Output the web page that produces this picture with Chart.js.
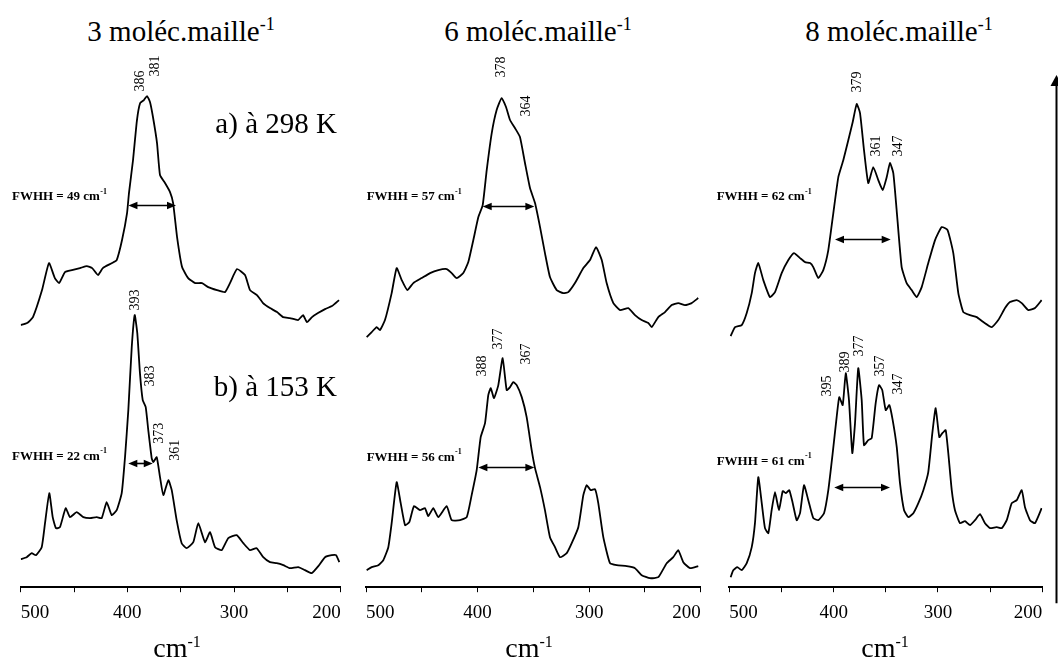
<!DOCTYPE html>
<html>
<head>
<meta charset="utf-8">
<script src="https://cdn.jsdelivr.net/npm/chart.js@4.4.1/dist/chart.umd.min.js"></script>
<style>
  body { margin: 0; background: #fff; }
  #fig { position: relative; width: 1058px; height: 664px; overflow: hidden;
         font-family: 'Liberation Serif', 'Times New Roman', serif; color: #000; background: #fff; }
  .panel { position: absolute; top: 45px; }
  .title { position: absolute; top: 14px; width: 300px; text-align: center; font-size: 29px;
           line-height: 34px; white-space: nowrap; }
  .title sup { font-size: 62%; vertical-align: super; line-height: 0; }
  .xtitle { position: absolute; top: 634px; width: 200px; text-align: center; font-size: 28px;
            line-height: 28px; white-space: nowrap; }
  .xtitle span { font-size: 16px; position: relative; top: -10px; }
</style>
</head>
<body>
<div id="fig">
  <div class="title" style="left:31px">3 moléc.maille<sup>-1</sup></div>
  <div class="title" style="left:388px">6 moléc.maille<sup>-1</sup></div>
  <div class="title" style="left:749px">8 moléc.maille<sup>-1</sup></div>

  <canvas id="c1" class="panel" width="352" height="588" style="left:0px"></canvas>
  <canvas id="c2" class="panel" width="361" height="588" style="left:352px"></canvas>
  <canvas id="c3" class="panel" width="345" height="588" style="left:713px"></canvas>

  <div class="xtitle" style="left:77px">cm<span>-1</span></div>
  <div class="xtitle" style="left:429px">cm<span>-1</span></div>
  <div class="xtitle" style="left:785px">cm<span>-1</span></div>
</div>

<script>
// ---- data (wavenumber in cm-1, intensity in arbitrary units) ----
// 3 molec/maille, a) 298 K
const wave1a = [500, 494, 488.5, 480, 473.5, 468, 464, 458.5, 452, 444.4, 438, 433, 427.5, 423, 414.4, 410, 405, 400.3, 398.5, 394.7, 391, 388, 384.5, 381.6, 378.8, 376, 372.2, 369.4, 364.7, 360, 357.1, 353.4, 348.7, 343, 336.4, 330, 324.2, 316, 308.5, 303.8, 297.2, 289.7, 285, 278.5, 272.8, 266.3, 259.7, 254, 247.6, 240, 235.3, 231.6, 226.9, 221.3, 214.7, 208.2, 201.6];
const int1a  = [268, 270, 276, 303, 330, 315, 310, 321, 323, 325, 327, 325, 318, 325, 330, 333, 353, 380, 400, 433, 473, 490, 493, 497, 491, 476, 450, 418, 410, 401, 390, 356, 326, 315, 310, 310, 306, 303, 301, 310, 324, 318, 303, 298, 290, 285, 281, 276, 275, 273, 278, 271, 276, 280, 284, 287, 293];
// 3 molec/maille, b) 153 K
const wave1b = [500, 494.4, 489.7, 485.7, 480.3, 477.2, 473.2, 470, 466.9, 463.2, 457.8, 453.8, 447.5, 441.3, 435, 428.8, 424.1, 419.4, 414.7, 410, 405.3, 402.2, 399.1, 395.9, 393.1, 390.7, 388.2, 385.6, 382.8, 380.4, 377.2, 375.7, 372.5, 369.4, 366.3, 361.6, 358.4, 353.8, 349.1, 344.4, 338.2, 333.5, 327.2, 322.5, 317.8, 311.6, 305.4, 297.5, 291.3, 285, 278.8, 272.6, 266.3, 260, 253.8, 247.5, 239.8, 233.5, 227.2, 221, 214.7, 208.4, 204.4, 201.3];
const int1b  = [34, 36, 40, 38, 46, 70, 100, 76, 65, 66, 85, 76, 81, 76, 75, 76, 75, 91, 78, 83, 100, 136, 183, 246, 278, 260, 220, 193, 186, 163, 135, 131, 136, 116, 98, 113, 103, 73, 50, 45, 51, 70, 51, 61, 46, 43, 55, 58, 50, 43, 45, 36, 31, 30, 28, 25, 26, 23, 20, 27, 36, 38, 38, 31];
// 6 molec/maille, a) 298 K
const wave2a = [499.4, 494.9, 490.4, 487.5, 483, 477, 472.5, 468, 463, 457.6, 450.1, 442.6, 435.2, 427.7, 423.2, 418.7, 412.8, 408.3, 403.8, 399.3, 395.4, 391.8, 387.3, 382.9, 378.4, 374.5, 370.9, 366.5, 362, 357.5, 353, 348.5, 344, 339.6, 335.1, 329.1, 323.2, 318.7, 312.7, 305.2, 299.2, 293.8, 288.7, 284.3, 278.3, 272.3, 264.9, 258.9, 252.9, 246.9, 243.9, 238, 232, 226, 220.1, 214.1, 208.1, 202.2];
const int2a  = [256, 261, 266, 263, 273, 300, 325, 313, 303, 310, 315, 320, 323, 324, 320, 315, 320, 331, 353, 376, 388, 423, 460, 483, 495, 486, 473, 465, 456, 430, 405, 390, 366, 340, 316, 303, 300, 301, 310, 325, 333, 346, 333, 310, 290, 283, 285, 278, 273, 270, 266, 276, 281, 288, 290, 288, 290, 295];
// 6 molec/maille, b) 153 K
const wave2b = [499.4, 494.9, 489, 484.5, 480, 477, 472.5, 468.9, 465, 461.2, 457, 451.6, 447.1, 444.2, 439.7, 435.2, 427.7, 423.2, 415.7, 409.7, 405.3, 400.8, 397.2, 393.3, 390.4, 388.2, 385.3, 381.4, 377.5, 373.9, 370.9, 368, 364.9, 360.4, 356, 351.5, 348.5, 344, 339.6, 335.1, 330.6, 326.1, 320.1, 315.6, 309.7, 305.2, 302.2, 298.6, 294.7, 291.8, 287.3, 281.3, 275.3, 266.3, 258.9, 252.9, 245.4, 238, 230.5, 224.6, 220.1, 215.6, 209.6, 202.2];
const int2b  = [23, 26, 28, 33, 46, 70, 111, 90, 68, 71, 87, 83, 85, 77, 85, 76, 87, 73, 73, 76, 98, 123, 156, 170, 198, 205, 195, 208, 235, 203, 206, 211, 208, 196, 176, 143, 125, 106, 83, 56, 46, 36, 40, 50, 66, 98, 108, 103, 104, 90, 56, 30, 28, 27, 25, 18, 15, 16, 30, 36, 43, 31, 25, 27];
// 8 molec/maille, a) 298 K
const wave3a = [498.7, 494.5, 488.1, 483.3, 478.5, 475.4, 472.2, 467.4, 461, 456.2, 449.8, 443.4, 438, 432.2, 427.4, 422.6, 419.5, 414.7, 409.9, 405.1, 400.3, 395.5, 390.7, 385.9, 381.7, 377.9, 374.7, 370.9, 366.8, 362, 357.2, 353, 349.1, 346, 342.8, 339.6, 334.8, 330, 325.2, 320.4, 315.6, 309.3, 302.8, 296.4, 290.8, 285.3, 280.5, 275.7, 269.3, 262.9, 256.5, 248.5, 242.2, 235.7, 231, 224.5, 219.7, 213.4, 207, 200.6];
const int3a  = [257, 266, 268, 280, 300, 320, 330, 313, 296, 301, 320, 333, 340, 335, 331, 330, 326, 315, 323, 343, 380, 416, 433, 453, 471, 489, 480, 443, 410, 426, 413, 403, 416, 430, 420, 383, 326, 310, 303, 296, 306, 330, 353, 366, 363, 340, 300, 281, 278, 276, 271, 266, 273, 285, 291, 293, 290, 283, 285, 293];
// 8 molec/maille, b) 153 K
const wave3b = [498.7, 496.2, 492.3, 488.1, 483.3, 478.5, 475.4, 472.2, 468.9, 465.8, 462.6, 459.4, 456.2, 452.4, 448.8, 445.7, 442.5, 439.2, 435.4, 432.2, 428.4, 424.3, 419.5, 414.7, 409.2, 405.1, 400.9, 397.1, 394.6, 391.3, 388.4, 385.3, 382.1, 379.5, 376.4, 373.1, 370.9, 366.8, 363.5, 359.7, 356.5, 353.4, 350.1, 346.6, 343.4, 339.5, 336.4, 332.5, 328.4, 323.6, 318.8, 314, 309.3, 305.4, 302.2, 298.7, 295.8, 292.6, 290.1, 286.8, 283.7, 278.9, 274.1, 269.3, 264.5, 259.7, 254.9, 250.1, 243.7, 238.9, 234.1, 229.3, 224.5, 219.7, 216.6, 211.8, 207, 200.6];
const int3b  = [16, 23, 26, 23, 30, 46, 70, 116, 90, 65, 60, 83, 101, 83, 102, 100, 103, 90, 73, 80, 108, 93, 75, 73, 80, 103, 140, 176, 196, 188, 220, 193, 140, 170, 225, 193, 148, 153, 155, 190, 208, 203, 183, 188, 173, 146, 110, 83, 76, 80, 90, 103, 121, 160, 185, 156, 160, 163, 140, 103, 83, 70, 72, 68, 73, 79, 70, 65, 66, 65, 73, 90, 93, 103, 86, 73, 70, 85];

// peak labels (cm-1)
const peaks1a = [386, 381];
const peaks1b = [393, 383, 373, 361];
const peaks2a = [378, 364];
const peaks2b = [388, 377, 367];
const peaks3a = [379, 361, 347];
const peaks3b = [395, 389, 377, 357, 347];

// FWHH values (cm-1) and the ends / height of the double arrows
const fwhhValues = [49, 22, 57, 56, 62, 61];
const fwhhEnds   = [[399, 354.4], [399.1, 376.2], [395.4, 349.1], [399.3, 349.1], [398.7, 345.3], [399.4, 346]];
const fwhhLevel  = [388, 130, 387, 126, 354, 106];

const tickValues = [500, 400, 300, 200];

// ---- layout of the annotations (data coordinates of label centres) ----
const peakPos1a = [[387.7, 512], [373.4, 527]];
const peakPos1b = [[392.4, 293], [378.8, 217], [370, 160], [355.3, 143]];
const peakPos2a = [[378.4, 526], [356.6, 487]];
const peakPos2b = [[395.4, 227], [381.4, 254], [356.6, 239]];
const peakPos3a = [[377.6, 511], [359.4, 447], [337.6, 447]];
const peakPos3b = [[406.4, 207], [388.8, 231], [375.2, 247], [355.1, 227], [337.6, 209]];
const fwhhTextPos = [[508.2, 396], [508.2, 137], [499.4, 396], [499.4, 136], [512.1, 396], [512.1, 132]];

const SERIF = '"Liberation Serif", "Times New Roman", serif';

// the wavenumber axis runs from 500 down to 200: it is plotted as -cm-1 so that
// the end labels can be aligned inwards like in the original figure
const toAxis = w => -w;

function arrowHead(ctx, x, y, dir) {
    ctx.beginPath();
    ctx.moveTo(x, y);
    ctx.lineTo(x - dir * 9, y - 3.8);
    ctx.lineTo(x - dir * 9, y + 3.8);
    ctx.closePath();
    ctx.fill();
}

function makeDecor(cfg) {
    return {
        id: 'decor',
        afterDatasetsDraw(chart) {
            const ctx = chart.ctx;
            const X = v => chart.scales.x.getPixelForValue(toAxis(v));
            const Y = v => chart.scales.y.getPixelForValue(v);
            ctx.save();
            ctx.fillStyle = '#000';
            ctx.strokeStyle = '#000';

            // rotated peak labels
            cfg.peaks.forEach(set => {
                set.values.forEach((v, i) => {
                    const p = set.pos[i];
                    ctx.save();
                    ctx.translate(X(p[0]), Y(p[1]));
                    ctx.rotate(-Math.PI / 2);
                    ctx.font = '14px ' + SERIF;
                    ctx.textAlign = 'center';
                    ctx.textBaseline = 'middle';
                    ctx.fillText(String(v), 0, 0);
                    ctx.restore();
                });
            });

            // FWHH double arrows + text
            cfg.fwhh.forEach(idx => {
                const [x1, x2] = fwhhEnds[idx];
                const y = Math.round(Y(fwhhLevel[idx])) + 0.5;
                const px1 = X(x1), px2 = X(x2);
                ctx.lineWidth = 1.6;
                ctx.beginPath();
                ctx.moveTo(px1 + 4, y);
                ctx.lineTo(px2 - 4, y);
                ctx.stroke();
                arrowHead(ctx, px1, y, -1);
                arrowHead(ctx, px2, y, 1);

                const [tx, ty] = fwhhTextPos[idx];
                const txt = 'FWHH = ' + fwhhValues[idx] + ' cm';
                ctx.font = 'bold 13px ' + SERIF;
                ctx.textAlign = 'left';
                ctx.textBaseline = 'middle';
                ctx.fillText(txt, X(tx), Y(ty));
                const w = ctx.measureText(txt).width;
                ctx.font = 'bold 8px ' + SERIF;
                ctx.fillText('-1', X(tx) + w + 0.5, Y(ty) - 5);
            });

            // temperature labels
            (cfg.temps || []).forEach(t => {
                ctx.font = '29px ' + SERIF;
                ctx.textAlign = 'right';
                ctx.textBaseline = 'alphabetic';
                ctx.fillText(t.text, X(t.x), Y(t.y));
            });

            // intensity arrow at the far right
            if (cfg.intensityArrow) {
                const x = chart.width - 1.5;
                const top = chart.chartArea.top + 15;
                const bottom = chart.chartArea.bottom + 16;
                ctx.lineWidth = 2;
                ctx.beginPath();
                ctx.moveTo(x, top + 8);
                ctx.lineTo(x, bottom);
                ctx.stroke();
                ctx.beginPath();
                ctx.moveTo(x, top);
                ctx.lineTo(x - 6, top + 11);
                ctx.lineTo(x + 6, top + 11);
                ctx.closePath();
                ctx.fill();
            }
            ctx.restore();
        }
    };
}

function buildChart(id, padL, padR, series, cfg) {
    return new Chart(document.getElementById(id), {
        type: 'line',
        data: {
            datasets: series.map(s => ({
                data: s[0].map((w, i) => ({ x: toAxis(w), y: s[1][i] })),
                borderColor: '#000',
                borderWidth: 1.8,
                pointRadius: 0,
                tension: 0.15,
                fill: false
            }))
        },
        options: {
            responsive: false,
            animation: false,
            layout: { padding: { left: padL, right: padR, top: 15, bottom: 0 } },
            plugins: { legend: { display: false }, tooltip: { enabled: false } },
            scales: {
                x: {
                    type: 'linear',
                    min: toAxis(500),
                    max: toAxis(200),
                    border: { display: true, color: '#000', width: 2 },
                    grid: { drawOnChartArea: false, drawTicks: true, tickLength: 5, tickWidth: 1, tickColor: '#000' },
                    ticks: {
                        stepSize: 50,
                        align: 'inner',
                        padding: 9,
                        autoSkip: false,
                        maxRotation: 0,
                        color: '#000',
                        font: { family: SERIF, size: 19 },
                        callback: v => tickValues.includes(-v) ? String(-v) : ''
                    }
                },
                y: { display: false, min: 6, max: 533 }
            }
        },
        plugins: [makeDecor(cfg)]
    });
}

buildChart('c1', 20.7, 11.3, [[wave1a, int1a], [wave1b, int1b]], {
    peaks: [{ values: peaks1a, pos: peakPos1a }, { values: peaks1b, pos: peakPos1b }],
    fwhh: [0, 1],
    temps: [{ text: 'a) à 298 K', x: 203.5, y: 460 }, { text: 'b) à 153 K', x: 203.5, y: 197 }]
});
buildChart('c2', 14, 12.3, [[wave2a, int2a], [wave2b, int2b]], {
    peaks: [{ values: peaks2a, pos: peakPos2a }, { values: peaks2b, pos: peakPos2b }],
    fwhh: [2, 3]
});
buildChart('c3', 16.3, 15.7, [[wave3a, int3a], [wave3b, int3b]], {
    peaks: [{ values: peaks3a, pos: peakPos3a }, { values: peaks3b, pos: peakPos3b }],
    fwhh: [4, 5],
    intensityArrow: true
});
</script>
</body>
</html>
